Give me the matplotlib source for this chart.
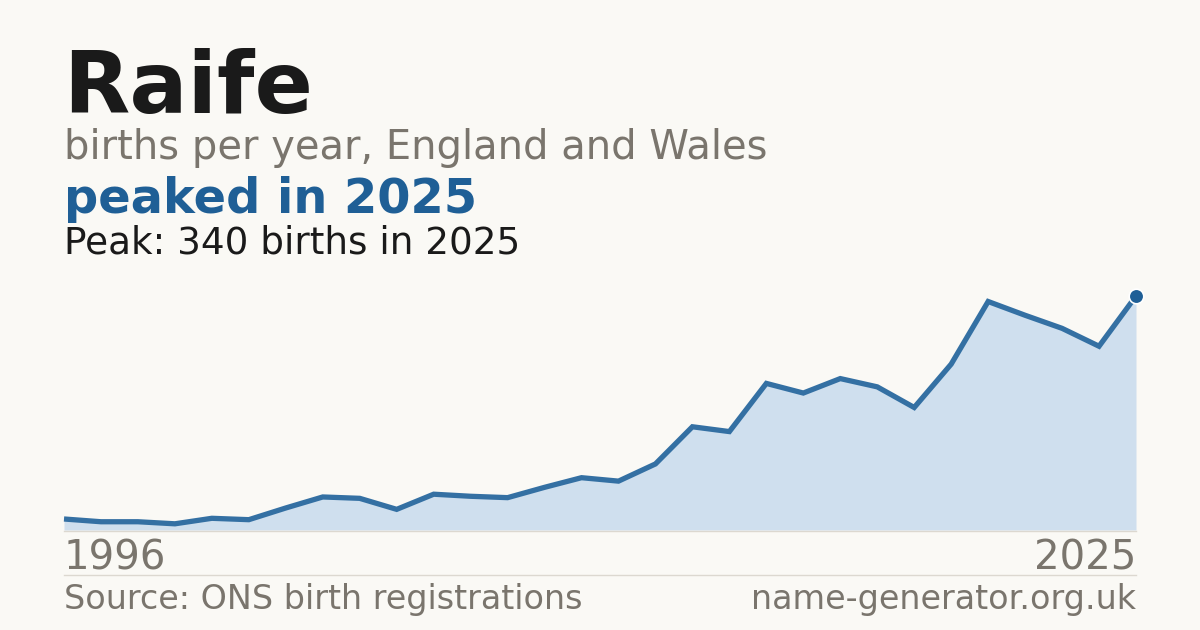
import os
import matplotlib
matplotlib.use("Agg")
import matplotlib.pyplot as plt
import matplotlib.transforms as mtransforms
from matplotlib.lines import Line2D
from matplotlib.font_manager import FontProperties

years = list(range(1996, 2026))
births = [16, 12, 12, 9, 17, 15, 32, 48, 46, 30,
          52, 49, 47, 62, 76, 71, 96, 150, 143, 213,
          199, 220, 208, 178, 241, 332, 312, 293, 267, 340]

title = "Raife"
subtitle = "births per year, England and Wales"
headline = "peaked in 2025"
peak_text = "Peak: 340 births in 2025"
source = "Source: ONS birth registrations"
site = "name-generator.org.uk"

BG = "#faf9f5"
BLUE = "#1f5f96"
LINE = "#3470a3"
FILL = "#cfdfee"
GRAY = "#7a756d"
DARK = "#1a1a1a"
RULE = "#dcd8d0"

ttf_dir = os.path.join(matplotlib.get_data_path(), "fonts", "ttf")
REG = os.path.join(ttf_dir, "DejaVuSans.ttf")
BOLD = os.path.join(ttf_dir, "DejaVuSans-Bold.ttf")


def fp(size, bold=False):
    return FontProperties(fname=BOLD if bold else REG, size=size)


fig = plt.figure(figsize=(12, 6.3), dpi=100, facecolor=BG)

ax = fig.add_axes([64/1200, 100/630, 1072/1200, 234/630])
ax.set_facecolor(BG)
ax.fill_between(years, births, 0, color=FILL, linewidth=0, zorder=1)
ax.plot(years, births, color=LINE, linewidth=3.8, solid_joinstyle='miter',
        solid_capstyle='butt', zorder=3, clip_on=False)
ax.plot([years[-1]], [births[-1]], marker='o', markersize=10.5,
        color=BLUE, markeredgecolor='white', markeredgewidth=1.2,
        zorder=4, clip_on=False)
ax.set_xlim(years[0], years[-1])
ax.set_ylim(0, max(births))
ax.axis('off')

# baseline and separator
fig.add_artist(Line2D([64/1200, 1136/1200], [1-530.5/630]*2, color=RULE, lw=1))
fig.add_artist(Line2D([64/1200, 1136/1200], [1-574.5/630]*2, color=RULE, lw=1))

x0 = 64/1200
x1 = 1136/1200
fig.text(x0 - 0.001, 1-113/630, title, fontproperties=fp(62, True), color=DARK, va='baseline', ha='left')
fig.text(x0, 1-159/630, subtitle, fontproperties=fp(28.8), color=GRAY, va='baseline', ha='left')
fig.text(x0, 1-213/630, headline, fontproperties=fp(34.5, True), color=BLUE, va='baseline', ha='left')
fig.text(x0, 1-254/630, peak_text, fontproperties=fp(26.9), color=DARK, va='baseline', ha='left')

trans = mtransforms.blended_transform_factory(ax.transData, fig.transFigure)
ax.text(years[0], 1-570/630, str(years[0]), transform=trans, fontproperties=fp(29), color=GRAY, va='baseline', ha='left')
ax.text(years[-1], 1-570/630, str(years[-1]), transform=trans, fontproperties=fp(29), color=GRAY, va='baseline', ha='right')

fig.text(x0, 1-609/630, source, fontproperties=fp(24), color=GRAY, va='baseline', ha='left')
fig.text(x1, 1-609/630, site, fontproperties=fp(24), color=GRAY, va='baseline', ha='right')

fig.savefig("out.png", dpi=100, facecolor=BG)
